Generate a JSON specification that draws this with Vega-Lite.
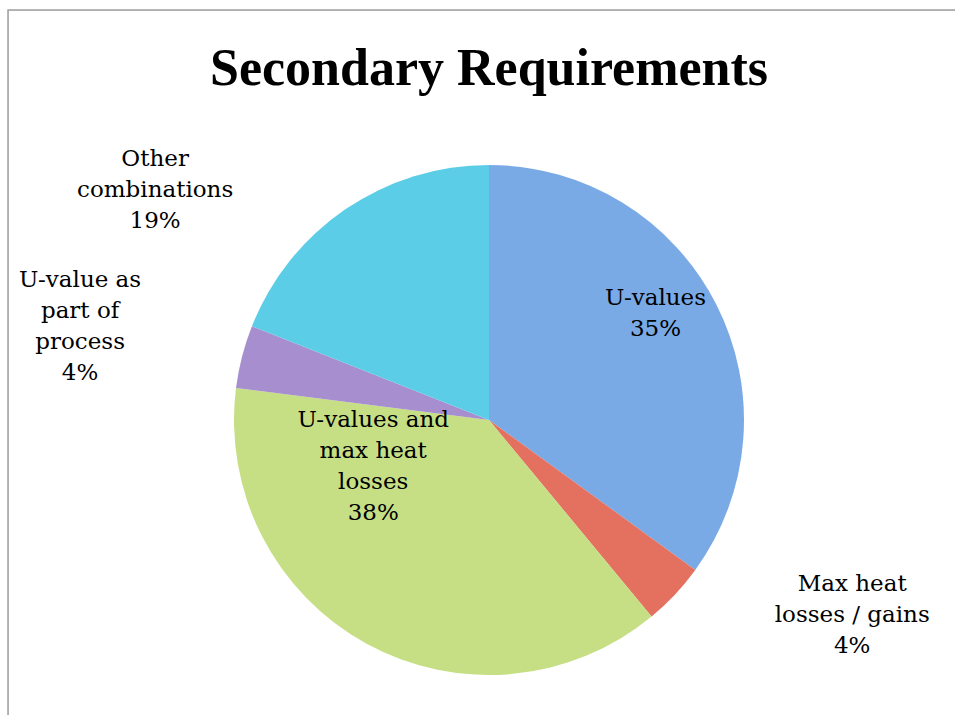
{
  "$schema": "https://vega.github.io/schema/vega-lite/v6.json",
  "autosize": {"type": "none"},
  "width": 962,
  "height": 820,
  "padding": {"left": 8, "top": 10, "right": 0, "bottom": 0},
  "background": "white",
  "title": {
    "text": "Secondary Requirements",
    "font": "Liberation Serif",
    "fontSize": 52,
    "fontWeight": "bold",
    "color": "#000000",
    "anchor": "middle",
    "offset": -87
  },
  "data": {
    "values": [
      {"rank": 1, "category": "U-values", "pct": 35, "label": "U-values\n35%"},
      {"rank": 2, "category": "Max heat losses / gains", "pct": 4, "label": "Max heat\nlosses / gains\n4%"},
      {"rank": 3, "category": "U-values and max heat losses", "pct": 38, "label": "U-values and\nmax heat\nlosses\n38%"},
      {"rank": 4, "category": "U-value as part of process", "pct": 4, "label": "U-value as\npart of\nprocess\n4%"},
      {"rank": 5, "category": "Other combinations", "pct": 19, "label": "Other\ncombinations\n19%"}
    ]
  },
  "transform": [
    {"stack": "pct", "groupby": [], "sort": [{"field": "rank", "order": "ascending"}], "as": ["t0", "t1"]},
    {"calculate": "(datum.t0 + datum.t1) / 2", "as": "tmid"}
  ],
  "layer": [
    {
      "mark": {"type": "rect", "fill": null, "stroke": "#a0a0a0", "strokeWidth": 1.5},
      "encoding": {
        "x": {"value": 0},
        "y": {"value": 0},
        "x2": {"value": {"expr": "width"}},
        "y2": {"value": {"expr": "height"}}
      },
      "transform": [{"filter": "datum.rank === 1"}]
    },
    {
      "mark": {"type": "arc", "outerRadius": 255},
      "encoding": {
        "theta": {"field": "t0", "type": "quantitative", "scale": {"domain": [0, 100]}},
        "theta2": {"field": "t1"},
        "color": {
          "field": "category",
          "type": "nominal",
          "scale": {
            "domain": ["U-values", "Max heat losses / gains", "U-values and max heat losses", "U-value as part of process", "Other combinations"],
            "range": ["#7aaae6", "#e4705f", "#c6df84", "#a78fcf", "#5ccde6"]
          },
          "legend": null
        }
      }
    },
    {
      "transform": [{"filter": "datum.rank === 1"}],
      "mark": {"type": "text", "radius": 170, "dx": 15, "dy": -45, "font": "DejaVu Serif", "fontSize": 23, "lineBreak": "\n", "lineHeight": 31, "align": "center", "baseline": "middle", "color": "#000000"},
      "encoding": {"theta": {"field": "tmid", "type": "quantitative"}, "text": {"field": "label", "type": "nominal"}}
    },
    {
      "transform": [{"filter": "datum.rank === 3"}],
      "mark": {"type": "text", "radius": 120, "dx": -58, "dy": -105, "font": "DejaVu Serif", "fontSize": 23, "lineBreak": "\n", "lineHeight": 31, "align": "center", "baseline": "middle", "color": "#000000"},
      "encoding": {"theta": {"field": "tmid", "type": "quantitative"}, "text": {"field": "label", "type": "nominal"}}
    },
    {
      "transform": [{"filter": "datum.rank === 2"}],
      "mark": {"type": "text", "radius": 335, "dx": 119, "dy": -65, "font": "DejaVu Serif", "fontSize": 23, "lineBreak": "\n", "lineHeight": 31, "align": "center", "baseline": "middle", "color": "#000000"},
      "encoding": {"theta": {"field": "tmid", "type": "quantitative"}, "text": {"field": "label", "type": "nominal"}}
    },
    {
      "transform": [{"filter": "datum.rank === 4"}],
      "mark": {"type": "text", "radius": 385, "dx": -36, "dy": -44, "font": "DejaVu Serif", "fontSize": 23, "lineBreak": "\n", "lineHeight": 31, "align": "center", "baseline": "middle", "color": "#000000"},
      "encoding": {"theta": {"field": "tmid", "type": "quantitative"}, "text": {"field": "label", "type": "nominal"}}
    },
    {
      "transform": [{"filter": "datum.rank === 5"}],
      "mark": {"type": "text", "radius": 320, "dx": -154, "dy": 4, "font": "DejaVu Serif", "fontSize": 23, "lineBreak": "\n", "lineHeight": 31, "align": "center", "baseline": "middle", "color": "#000000"},
      "encoding": {"theta": {"field": "tmid", "type": "quantitative"}, "text": {"field": "label", "type": "nominal"}}
    }
  ]
}
